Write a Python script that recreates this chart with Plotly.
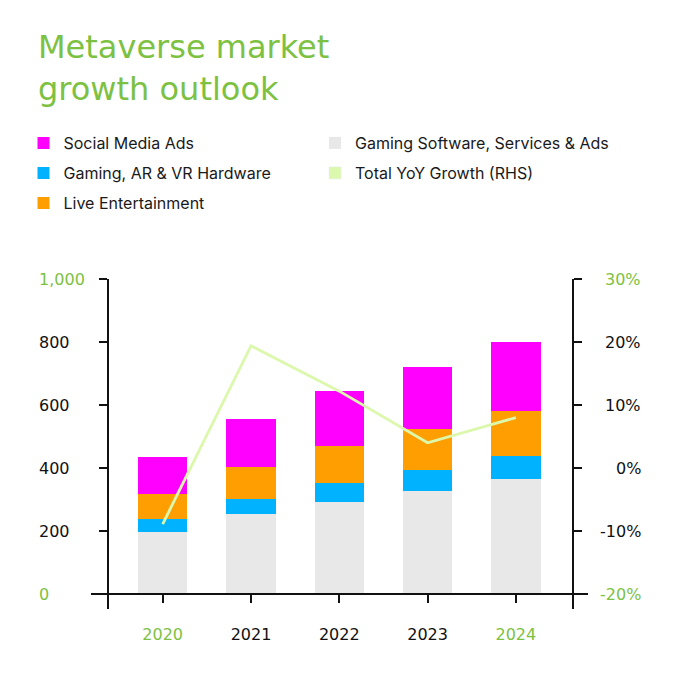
import plotly.graph_objects as go

years = ["2020", "2021", "2022", "2023", "2024"]
gaming_software = [198, 253, 293, 328, 364]
hardware = [41, 50, 59, 67, 73]
live_ent = [77, 99, 117, 129, 143]
social_ads = [120, 152, 175, 198, 221]
yoy_growth = [-8.9, 19.4, 12.2, 4.0, 8.0]

left_ticks = [0, 200, 400, 600, 800, 1000]
left_labels = ["0", "200", "400", "600", "800", "1,000"]
right_ticks = [-20, -10, 0, 10, 20, 30]
right_labels = ["-20%", "-10%", "0%", "10%", "20%", "30%"]

GREEN = "#7dc142"
INK = "#111111"
C_GRAY = "#e8e8e8"
C_BLUE = "#00b2ff"
C_ORANGE = "#ff9e00"
C_MAG = "#ff00ff"
C_LINE = "#dcf8ac"

W = H = 680
OFF = 8  # page offset of the plot inside the browser window

def px_x(v):
    return (v - OFF) / W

def px_y(v):
    return 1 - (v - OFF) / H

NUM_FONT = "DejaVu Sans"
LEG_FONT = "Inter"

xidx = list(range(len(years)))

fig = go.Figure()
series = [
    ("Gaming Software, Services & Ads", gaming_software, C_GRAY, "legend2"),
    ("Gaming, AR & VR Hardware", hardware, C_BLUE, "legend3"),
    ("Live Entertainment", live_ent, C_ORANGE, "legend5"),
    ("Social Media Ads", social_ads, C_MAG, "legend"),
]
for name, vals, col, leg in series:
    fig.add_trace(go.Bar(x=xidx, y=vals, name=name, marker=dict(color=col, line=dict(width=0)),
                         legend=leg, yaxis="y"))

fig.add_trace(go.Scatter(x=xidx, y=yoy_growth, mode="lines", name="Total YoY Growth (RHS)",
                         line=dict(color=C_LINE, width=2.8), yaxis="y2", showlegend=False))
# legend proxy (square swatch)
fig.add_trace(go.Bar(x=[None], y=[None], name="Total YoY Growth (RHS)", marker=dict(color=C_LINE),
                     legend="legend4", yaxis="y"))

axis_common = dict(showgrid=False, zeroline=False, linecolor=INK, linewidth=1.5,
                   tickcolor=INK, tickwidth=1.5, ticklen=8, showticklabels=False)

y_dom = [px_y(609), px_y(279)]
yr1 = [-47.6, 1000]
yr2 = [-22.38, 30]

tick_colors = [GREEN if i in (0, len(years) - 1) else INK for i in range(len(years))]
fig.update_layout(
    width=W, height=H, autosize=False,
    margin=dict(l=0, r=0, t=0, b=0),
    paper_bgcolor="white", plot_bgcolor="white",
    barmode="stack", bargap=0.44,
    xaxis=dict(domain=[px_x(91), px_x(588)], range=[-0.812, 4.817], anchor="free",
               position=px_y(594), showgrid=False, zeroline=False, showline=True,
               linecolor=INK, linewidth=1.5, ticks="outside", ticklen=8, tickwidth=1.5,
               tickcolor=INK, tickvals=xidx,
               ticktext=[f"<span style='color:{c}'>{y}</span>" for y, c in zip(years, tick_colors)],
               tickfont=dict(family=NUM_FONT, size=16, color=INK), ticklabelstandoff=18),
    yaxis=dict(domain=y_dom, range=yr1, anchor="free", position=px_x(107.7), side="left",
               showline=True, ticks="outside", tickvals=left_ticks, **axis_common),
    yaxis3=dict(domain=y_dom, range=yr1, anchor="free", position=px_x(107.7), side="left",
                overlaying="y", showline=False, ticks="inside", tickvals=left_ticks, **axis_common),
    yaxis2=dict(domain=y_dom, range=yr2, anchor="free", position=px_x(573), side="right",
                overlaying="y", showline=True, ticks="outside", tickvals=right_ticks, **axis_common),
    yaxis4=dict(domain=y_dom, range=yr2, anchor="free", position=px_x(573), side="right",
                overlaying="y", showline=False, ticks="inside", tickvals=right_ticks, **axis_common),
    showlegend=True,
)

leg_font = dict(family=LEG_FONT, size=16, color="#1a1a1a")
leg_pos = {
    "legend": (23.5, 143), "legend2": (315, 143),
    "legend3": (23.5, 173), "legend4": (315, 173),
    "legend5": (23.5, 203),
}
for key, (lx, ly) in leg_pos.items():
    fig.update_layout({key: dict(x=px_x(lx), y=px_y(ly), xanchor="left", yanchor="middle",
                                 font=leg_font, bgcolor="rgba(0,0,0,0)", borderwidth=0,
                                 itemclick=False, itemdoubleclick=False)})

annotations = []
for v, t in zip(left_ticks, left_labels):
    c = GREEN if v in (left_ticks[0], left_ticks[-1]) else INK
    annotations.append(dict(x=px_x(37), xref="paper", y=v, yref="y", text=t, showarrow=False,
                            xanchor="left", yanchor="middle",
                            font=dict(family=NUM_FONT, size=16, color=c)))
for v, t in zip(right_ticks, right_labels):
    c = GREEN if v in (right_ticks[0], right_ticks[-1]) else INK
    annotations.append(dict(x=px_x(643), xref="paper", y=v, yref="y2", text=t, showarrow=False,
                            xanchor="right", yanchor="middle",
                            font=dict(family=NUM_FONT, size=16, color=c)))
annotations.append(dict(x=px_x(36), xref="paper", y=px_y(26), yref="paper",
                        text="Metaverse market<br>growth outlook",
                        showarrow=False, xanchor="left", yanchor="top", align="left",
                        font=dict(family=NUM_FONT, size=32, color=GREEN)))
fig.update_layout(annotations=annotations)

fig.write_html("out.html")
